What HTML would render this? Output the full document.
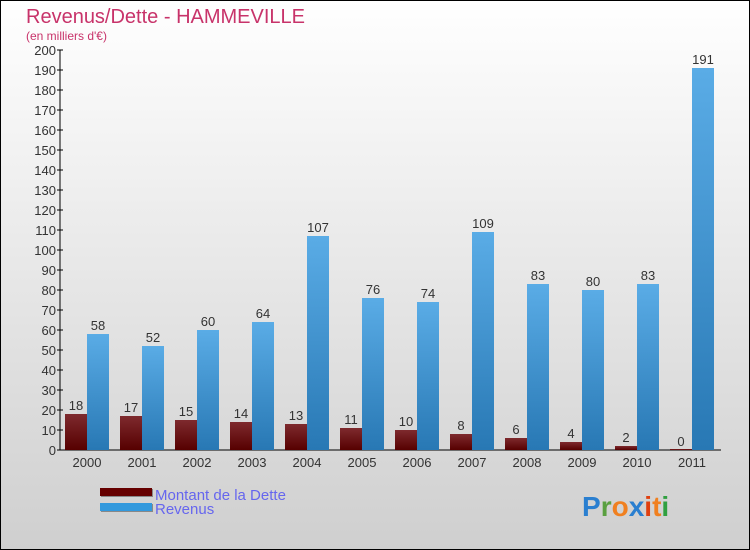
<!DOCTYPE html>
<html><head><meta charset="utf-8"><style>
body{margin:0;width:750px;height:550px;overflow:hidden}
svg{display:block;font-family:"Liberation Sans",sans-serif}
</style></head><body>
<svg width="750" height="550">
<defs>
<linearGradient id="bg" x1="0" y1="0" x2="0" y2="1"><stop offset="0" stop-color="#ffffff"/><stop offset="1" stop-color="#cfcfcf"/></linearGradient>
<linearGradient id="gd" x1="0" y1="0" x2="0" y2="1"><stop offset="0" stop-color="#7e2a2e"/><stop offset="1" stop-color="#560000"/></linearGradient>
<linearGradient id="gr" x1="0" y1="0" x2="0" y2="1"><stop offset="0" stop-color="#5aace6"/><stop offset="1" stop-color="#2878b4"/></linearGradient>
</defs>
<rect x="0.5" y="0.5" width="749" height="549" fill="url(#bg)" stroke="#000"/>
<text x="26" y="23" font-size="20" fill="#c8336a">Revenus/Dette - HAMMEVILLE</text>
<text x="26" y="40" font-size="12" fill="#c8336a">(en milliers d'€)</text>
<g id="axes"></g>
<g id="bars"></g>
<g>
<rect x="101" y="489" width="52" height="8" fill="#888"/><rect x="100" y="488" width="52" height="8" fill="#660000"/>
<rect x="101" y="504" width="52" height="8" fill="#888"/><rect x="100" y="503" width="52" height="8" fill="#3399dd"/>
<text x="155" y="500" font-size="15" fill="#6666ee">Montant de la Dette</text>
<text x="155" y="514" font-size="15" fill="#6666ee">Revenus</text>
</g>
<g font-size="28" font-weight="bold">
<text x="582" y="516"><tspan fill="#2a7fd0">P</tspan><tspan fill="#5aa040">r</tspan><tspan fill="#f08020">o</tspan><tspan fill="#2a7fd0">x</tspan><tspan fill="#e04010">i</tspan><tspan fill="#f08020">t</tspan><tspan fill="#30a040">i</tspan></text>
</g>
</svg>
<script>
const years=["2000","2001","2002","2003","2004","2005","2006","2007","2008","2009","2010","2011"];
const debt=[18,17,15,14,13,11,10,8,6,4,2,0];
const revenue=[58,52,60,64,107,76,74,109,83,80,83,191];
const yTicks=[0,10,20,30,40,50,60,70,80,90,100,110,120,130,140,150,160,170,180,190,200];
const NS="http://www.w3.org/2000/svg";
const y=v=>450-v*2;
const xg=i=>65+55*i;
function mk(tag,attrs,parent,text){const e=document.createElementNS(NS,tag);for(const k in attrs)e.setAttribute(k,attrs[k]);if(text!==undefined)e.textContent=text;parent.appendChild(e);return e;}
const ax=document.getElementById('axes'),bars=document.getElementById('bars');
let l=mk('line',{x1:60,y1:50,x2:60,y2:450,stroke:'#000'},ax);


l=mk('line',{x1:60,y1:450,x2:721,y2:450,stroke:'#000'},ax);


yTicks.forEach(t=>{
 mk('line',{x1:57,y1:y(t),x2:63,y2:y(t),stroke:'#000'},ax);
 const e=mk('text',{x:56,y:y(t)+5,'font-size':13,fill:'#333','text-anchor':'end'},ax,String(t));
 
 
});
years.forEach((yr,i)=>{
 const e=mk('text',{x:xg(i)+22,y:467,'font-size':13,fill:'#333','text-anchor':'middle'},ax,yr);
 
 
 const d=mk('rect',{x:xg(i),y:y(debt[i])-(debt[i]===0?1:0),width:22,height:Math.max(1,debt[i]*2),fill:'url(#gd)'},bars);
 
 
 const r=mk('rect',{x:xg(i)+22,y:y(revenue[i]),width:22,height:revenue[i]*2,fill:'url(#gr)'},bars);
 
 
 const dl=mk('text',{x:xg(i)+11,y:y(debt[i])-4,'font-size':13,fill:'#333','text-anchor':'middle'},bars,String(debt[i]));
 
 
 const rl=mk('text',{x:xg(i)+33,y:y(revenue[i])-4,'font-size':13,fill:'#333','text-anchor':'middle'},bars,String(revenue[i]));
 
 
});
</script>
</body></html>
